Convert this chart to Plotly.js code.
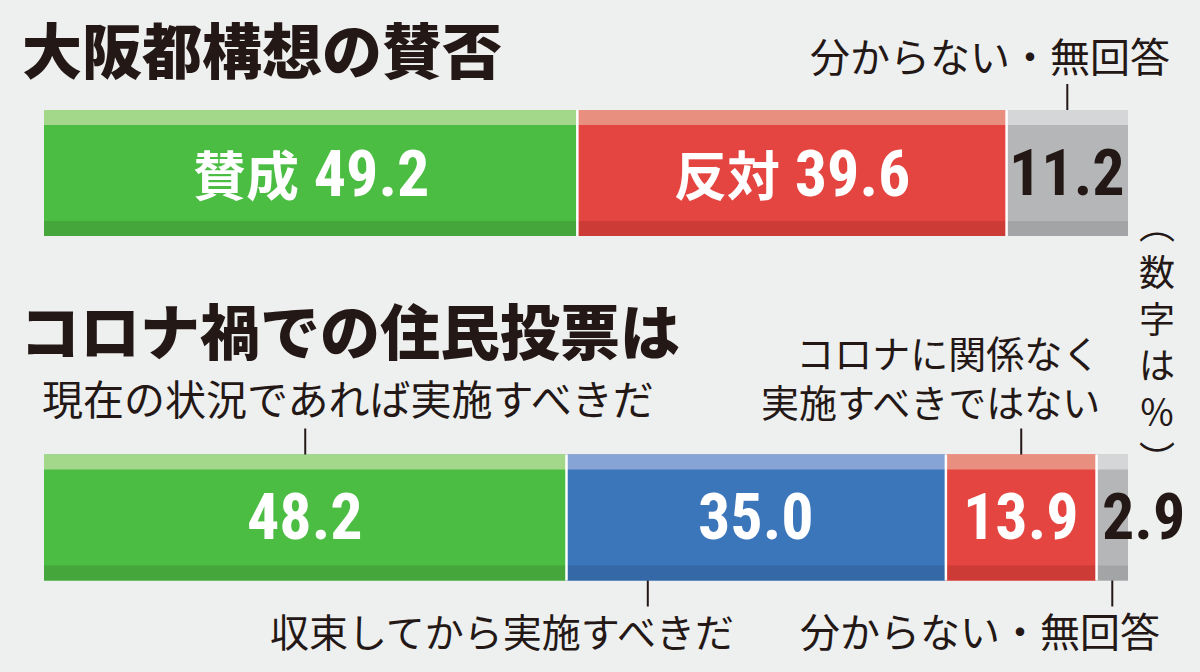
<!DOCTYPE html>
<html>
<head>
<meta charset="utf-8">
<script src="https://cdn.plot.ly/plotly-3.0.1.min.js"></script>
<style>
  html, body { margin: 0; padding: 0; background: #eeefef; }
  #chart { width: 1200px; height: 672px; }
</style>
</head>
<body>
<div id="chart"></div>
<script>
// --- data ---
const rowTitles = ["大阪都構想の賛否", "コロナ禍での住民投票は"];

const plebisciteCategories = ["賛成", "反対", "分からない・無回答"];
const plebisciteValues = [49.2, 39.6, 11.2];

const timingCategories = [
  "現在の状況であれば実施すべきだ",
  "収束してから実施すべきだ",
  "コロナに関係なく実施すべきではない",
  "分からない・無回答",
];
const timingValues = [48.2, 35.0, 13.9, 2.9];

const unitNote = "（数字は%）";

// --- style ---
const PALETTE = {
  green: { body: "#4bbd43", top: "#a3d88b", bottom: "#44a63b", text: "#ffffff" },
  red: { body: "#e54540", top: "#e98f80", bottom: "#cd3b37", text: "#ffffff" },
  blue: { body: "#3b75ba", top: "#86a5d6", bottom: "#3568a6", text: "#ffffff" },
  grey: { body: "#b5b6b8", top: "#d5d6d7", bottom: "#a3a4a5", text: "#231815" },
};
const plebisciteColors = ["green", "red", "grey"];
const timingColors = ["green", "blue", "red", "grey"];

const W = 1200, H = 672;
const ML = 44, MR = 72;
const UNIT = 344.5;            // px between the two bar rows
const BAR_H = 126 / UNIT;      // bar thickness in row units
const STRIP = 15 / UNIT;       // light / dark edge bands
const LEAD = 26 / UNIT;        // leader line length

const CJK = "'Noto Sans CJK JP', sans-serif";
const NUM = "'Roboto Condensed', Roboto, 'Noto Sans CJK JP', sans-serif";
const INK = "#231815";

const px = (x) => (x - ML) / (W - ML - MR);
const py = (y) => 1 - y / H;

function starts(values) {
  let acc = 0;
  return values.map((v) => {
    const s = acc;
    acc += v;
    return s;
  });
}

function rowTraces(row, values, colors) {
  const base = starts(values);
  const ys = values.map(() => row);
  const common = {
    type: "bar",
    orientation: "h",
    y: ys,
    x: values,
    base,
    hoverinfo: "skip",
    showlegend: false,
  };
  return [
    { ...common, width: BAR_H, marker: { color: colors.map((c) => PALETTE[c].body), line: { width: 0 } } },
    { ...common, width: STRIP, offset: -BAR_H / 2, marker: { color: colors.map((c) => PALETTE[c].top), line: { width: 0 } } },
    { ...common, width: STRIP, offset: BAR_H / 2 - STRIP, marker: { color: colors.map((c) => PALETTE[c].bottom), line: { width: 0 } } },
  ];
}

function separators(row, values) {
  const base = starts(values);
  return base.slice(1).map((b) => ({
    type: "line",
    xref: "x",
    yref: "y",
    x0: b,
    x1: b,
    y0: row - BAR_H / 2,
    y1: row + BAR_H / 2,
    line: { color: "#ffffff", width: 2.5 },
    layer: "above",
  }));
}

function valueLabels(row, values, colors, prefixes) {
  const base = starts(values);
  return values.map((v, i) => {
    const overflow = v < 5;
    const prefix = prefixes && prefixes[i]
      ? `<span style="font-family:${CJK};font-size:53px">${prefixes[i]}</span> `
      : "";
    return {
      xref: "x",
      yref: "y",
      x: overflow ? base[i] : base[i] + v / 2,
      y: row,
      xshift: overflow ? 3 : 0,
      xanchor: overflow ? "left" : "center",
      yanchor: "middle",
      text: prefix + v.toFixed(1),
      showarrow: false,
      font: { family: NUM, size: 64, weight: 700, color: overflow ? INK : PALETTE[colors[i]].text },
    };
  });
}

function leader(row, values, seg, side, shift = 0) {
  const base = starts(values);
  const x = base[seg] + values[seg] / 2 + shift;
  const edge = side === "above" ? row - BAR_H / 2 : row + BAR_H / 2;
  const far = side === "above" ? edge - LEAD : edge + LEAD;
  return {
    type: "line",
    xref: "x",
    yref: "y",
    x0: x,
    x1: x,
    y0: edge,
    y1: far,
    line: { color: INK, width: 2 },
  };
}

function text(t, x, y, size, opts = {}) {
  return {
    xref: "paper",
    yref: "paper",
    x: px(x),
    y: py(y),
    xanchor: opts.xanchor || "left",
    yanchor: "middle",
    align: opts.align || "left",
    text: t,
    showarrow: false,
    font: { family: CJK, size, weight: opts.weight || 400, color: INK },
  };
}

const traces = [
  ...rowTraces(0, plebisciteValues, plebisciteColors),
  ...rowTraces(1, timingValues, timingColors),
];

const shapes = [
  ...separators(0, plebisciteValues),
  ...separators(1, timingValues),
  leader(0, plebisciteValues, 2, "above"),
  leader(1, timingValues, 0, "above"),
  leader(1, timingValues, 2, "above"),
  leader(1, timingValues, 1, "below", -10),
  leader(1, timingValues, 3, "below"),
];

const verticalNote = ["︵", ...unitNote.slice(1, -1).replace("%", "％").split(""), "︶"].join("<br>");

const annotations = [
  ...valueLabels(0, plebisciteValues, plebisciteColors, plebisciteCategories.slice(0, 2)),
  ...valueLabels(1, timingValues, timingColors, null),
  text(rowTitles[0], 20, 48, 60, { weight: 900 }),
  text(rowTitles[1], 18, 328, 60, { weight: 900 }),
  text(plebisciteCategories[2], 1172, 55, 40, { xanchor: "right" }),
  text(timingCategories[0], 40, 397, 41),
  text("コロナに関係なく<br>実施すべきではない", 1102, 376, 38, { xanchor: "right", align: "right" }),
  text(timingCategories[1], 268, 630, 39),
  text(timingCategories[3], 1162, 630, 40, { xanchor: "right" }),
  text(verticalNote, 1157, 340, 36, { xanchor: "center", align: "center" }),
];

const layout = {
  width: W,
  height: H,
  margin: { l: ML, r: MR, t: 0, b: 0, pad: 0 },
  paper_bgcolor: "#eeefef",
  plot_bgcolor: "rgba(0,0,0,0)",
  barmode: "overlay",
  showlegend: false,
  xaxis: { range: [0, 100], visible: false, fixedrange: true },
  yaxis: { range: [1 + (H - 517.5) / UNIT, -173 / UNIT], visible: false, fixedrange: true },
  shapes,
  annotations,
};

Plotly.newPlot("chart", traces, layout, { displayModeBar: false, staticPlot: true });
</script>
</body>
</html>
